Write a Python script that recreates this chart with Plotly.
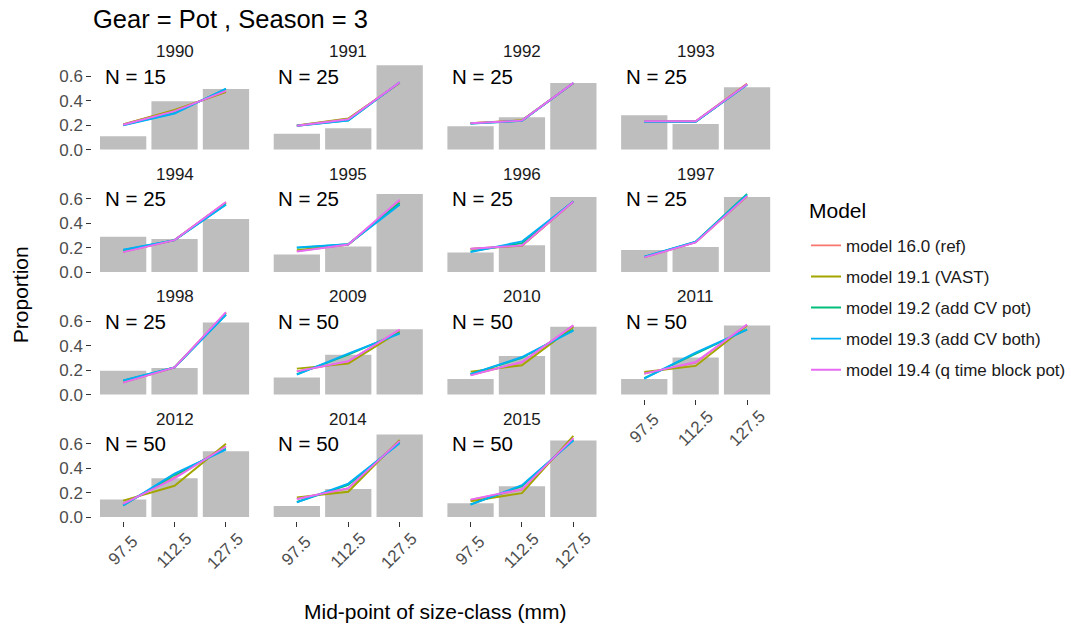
import plotly.graph_objects as go

# ---------------- data ----------------
years = [1990, 1991, 1992, 1993, 1994, 1995, 1996, 1997, 1998,
         2009, 2010, 2011, 2012, 2014, 2015]
n_samples = [15, 25, 25, 25, 25, 25, 25, 25, 25, 50, 50, 50, 50, 50, 50]
size_classes = ["97.5", "112.5", "127.5"]

observed = [
    [0.110, 0.395, 0.495], [0.130, 0.175, 0.690], [0.190, 0.265, 0.545],
    [0.280, 0.210, 0.510], [0.290, 0.270, 0.435], [0.145, 0.210, 0.640],
    [0.160, 0.220, 0.615], [0.180, 0.205, 0.615], [0.195, 0.218, 0.590],
    [0.140, 0.327, 0.535], [0.128, 0.316, 0.556], [0.128, 0.303, 0.565],
    [0.143, 0.317, 0.538], [0.091, 0.229, 0.675], [0.113, 0.253, 0.627],
]

model_16_0 = [
    [0.205, 0.320, 0.475], [0.195, 0.250, 0.548], [0.215, 0.238, 0.545],
    [0.232, 0.232, 0.540], [0.167, 0.262, 0.572], [0.172, 0.226, 0.584],
    [0.190, 0.218, 0.578], [0.120, 0.245, 0.625], [0.100, 0.222, 0.672],
    [0.190, 0.270, 0.530], [0.160, 0.265, 0.565], [0.172, 0.262, 0.570],
    [0.108, 0.325, 0.580], [0.148, 0.235, 0.625], [0.140, 0.225, 0.645],
]
model_19_1 = [
    [0.205, 0.325, 0.470], [0.197, 0.255, 0.545], [0.215, 0.240, 0.544],
    [0.230, 0.230, 0.535], [0.168, 0.262, 0.568], [0.180, 0.225, 0.566],
    [0.190, 0.215, 0.578], [0.122, 0.245, 0.620], [0.100, 0.222, 0.668],
    [0.213, 0.254, 0.518], [0.188, 0.240, 0.554], [0.185, 0.235, 0.565],
    [0.135, 0.256, 0.600], [0.161, 0.207, 0.632], [0.129, 0.196, 0.665],
]
model_19_2 = [
    [0.200, 0.300, 0.495], [0.195, 0.240, 0.550], [0.212, 0.236, 0.545],
    [0.228, 0.228, 0.533], [0.180, 0.262, 0.555], [0.198, 0.228, 0.565],
    [0.170, 0.237, 0.580], [0.125, 0.248, 0.640], [0.115, 0.222, 0.655],
    [0.168, 0.327, 0.505], [0.170, 0.300, 0.530], [0.135, 0.335, 0.535],
    [0.096, 0.344, 0.560], [0.123, 0.264, 0.610], [0.104, 0.253, 0.632],
]
model_19_3 = [
    [0.198, 0.295, 0.500], [0.195, 0.237, 0.552], [0.212, 0.236, 0.545],
    [0.228, 0.228, 0.530], [0.183, 0.262, 0.551], [0.202, 0.228, 0.551],
    [0.164, 0.251, 0.578], [0.126, 0.249, 0.632], [0.117, 0.222, 0.654],
    [0.164, 0.335, 0.499], [0.168, 0.308, 0.524], [0.131, 0.344, 0.532],
    [0.094, 0.355, 0.552], [0.121, 0.274, 0.605], [0.102, 0.261, 0.627],
]
model_19_4 = [
    [0.203, 0.315, 0.480], [0.195, 0.248, 0.550], [0.215, 0.237, 0.546],
    [0.232, 0.232, 0.535], [0.164, 0.262, 0.573], [0.169, 0.226, 0.592],
    [0.191, 0.218, 0.578], [0.120, 0.243, 0.622], [0.098, 0.222, 0.676],
    [0.190, 0.273, 0.532], [0.158, 0.267, 0.567], [0.172, 0.267, 0.573],
    [0.108, 0.317, 0.578], [0.148, 0.237, 0.624], [0.143, 0.229, 0.646],
]

model_names = ["model 16.0 (ref)", "model 19.1 (VAST)", "model 19.2 (add CV pot)",
               "model 19.3 (add CV both)", "model 19.4 (q time block pot)"]
model_values = [model_16_0, model_19_1, model_19_2, model_19_3, model_19_4]
model_colors = ["#F8766D", "#A3A500", "#00BF7D", "#00B0F6", "#E76BF3"]

# ---------------- layout geometry ----------------
W, H = 1071, 632
FONT = "Liberation Sans, Arial, Helvetica, sans-serif"
ncol = 4
col_left = [92.3, 266.0, 439.7, 613.4]
panel_w = 164.5
zero_y = [151.0, 274.7, 398.4, 522.0]
ymin, ymax = -0.0345, 0.7245
px_per_unit = 123.3
xrange_ = [0.4, 3.6]
xpos = [1, 2, 3]
SMALL = 17
BIG = 21

fig = go.Figure()
layout = dict(
    width=W, height=H,
    margin=dict(l=0, r=0, t=0, b=0),
    paper_bgcolor="white", plot_bgcolor="white",
    font=dict(family=FONT, color="#1A1A1A"),
    showlegend=True,
    annotations=[],
)

n = len(years)
bottom_panels = {i for i in range(n) if i + ncol >= n}

for i in range(n):
    r, c = divmod(i, ncol)
    sfx = "" if i == 0 else str(i + 1)
    xa, ya = "x" + sfx, "y" + sfx
    left = col_left[c]
    top = zero_y[r] - ymax * px_per_unit
    bot = zero_y[r] - ymin * px_per_unit
    layout["xaxis" + sfx] = dict(
        domain=[left / W, (left + panel_w) / W], anchor=ya, range=xrange_,
        showgrid=False, zeroline=False, showline=False,
        tickvals=xpos, ticktext=["", "", ""],
        ticks="outside" if i in bottom_panels else "",
        ticklen=5, tickwidth=1, tickcolor="#333333",
        showticklabels=False, fixedrange=True,
    )
    layout["yaxis" + sfx] = dict(
        domain=[1 - bot / H, 1 - top / H], anchor=xa, range=[ymin, ymax],
        showgrid=False, zeroline=False, showline=False,
        tickvals=[0, 0.2, 0.4, 0.6], ticktext=["0.0", "0.2", "0.4", "0.6"],
        ticks="outside" if c == 0 else "", ticklen=5, tickwidth=1, tickcolor="#333333",
        showticklabels=(c == 0), tickfont=dict(size=SMALL, color="#4D4D4D", family=FONT),
        fixedrange=True,
    )
    # observed bars
    fig.add_trace(go.Bar(x=xpos, y=observed[i], width=0.9,
                         marker=dict(color="#BEBEBE", line=dict(width=0)),
                         xaxis=xa, yaxis=ya, showlegend=False, hoverinfo="skip"))
    # model lines
    for name, vals, col in zip(model_names, model_values, model_colors):
        fig.add_trace(go.Scatter(x=xpos, y=vals[i], mode="lines",
                                 line=dict(color=col, width=1.9),
                                 name=name, legendgroup=name, showlegend=(i == 0),
                                 xaxis=xa, yaxis=ya))
    # strip label
    layout["annotations"].append(dict(
        text=str(years[i]), xref="paper", yref="paper",
        x=(left + panel_w / 2) / W, y=1 - (top - 9.5) / H,
        xanchor="center", yanchor="middle", showarrow=False,
        font=dict(size=SMALL, color="#1A1A1A", family=FONT)))
    # N label
    layout["annotations"].append(dict(
        text=f"N = {n_samples[i]}", xref=xa, yref=ya, x=0.6, y=0.6,
        xanchor="left", yanchor="middle", showarrow=False,
        font=dict(size=20.5, color="black", family=FONT)))
    # x tick labels (rotated, centred under tick)
    if i in bottom_panels:
        for xv, lab in zip(xpos, size_classes):
            layout["annotations"].append(dict(
                text=lab, xref=xa, yref="paper", x=xv, y=1 - (bot + 30) / H,
                xanchor="center", yanchor="middle", textangle=-45, showarrow=False,
                font=dict(size=SMALL, color="#4D4D4D", family=FONT)))

# title and axis titles
layout["annotations"].append(dict(
    text="Gear = Pot , Season = 3", xref="paper", yref="paper", x=91 / W, y=1 - 19 / H,
    xanchor="left", yanchor="middle", showarrow=False,
    font=dict(size=25.5, color="black", family=FONT)))
layout["annotations"].append(dict(
    text="Mid-point of size-class (mm)", xref="paper", yref="paper",
    x=(col_left[0] + col_left[3] + panel_w) / 2 / W, y=1 - 617 / H,
    xanchor="center", yanchor="middle", showarrow=False,
    font=dict(size=BIG, color="black", family=FONT)))
layout["annotations"].append(dict(
    text="Proportion", xref="paper", yref="paper", x=20 / W, y=1 - 298 / H,
    xanchor="center", yanchor="middle", textangle=-90, showarrow=False,
    font=dict(size=BIG, color="black", family=FONT)))
# legend title
layout["annotations"].append(dict(
    text="Model", xref="paper", yref="paper", x=807 / W, y=1 - 213 / H,
    xanchor="left", yanchor="middle", showarrow=False,
    font=dict(size=BIG, color="black", family=FONT)))

layout["legend"] = dict(
    x=806 / W, y=1 - 230 / H, xanchor="left", yanchor="top",
    font=dict(size=SMALL, color="#1A1A1A", family=FONT),
    traceorder="grouped", tracegroupgap=6, itemwidth=30,
    bgcolor="rgba(0,0,0,0)",
)

fig.update_layout(**layout)
fig.write_html("out.html", config={"displayModeBar": False},
               post_script="document.body.style.margin='0';document.body.style.padding='0';")
